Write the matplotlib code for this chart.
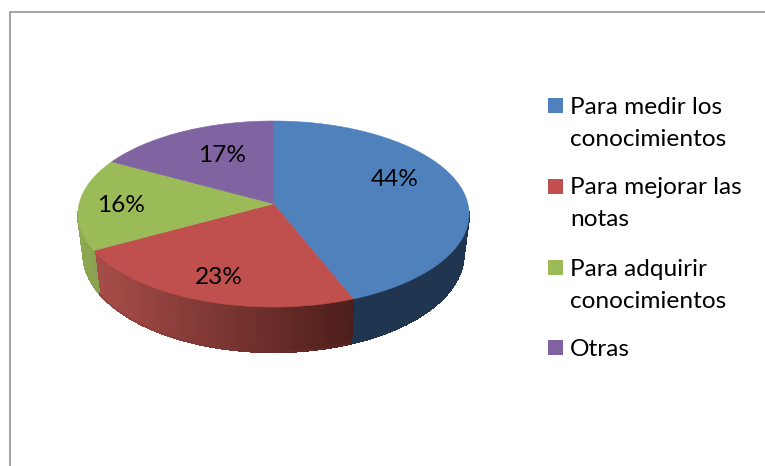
import numpy as np
import matplotlib
matplotlib.use("Agg")
import matplotlib.pyplot as plt
from matplotlib.patches import Rectangle
from matplotlib.colors import to_rgb

categories = ["Para medir los\nconocimientos", "Para mejorar las\nnotas", "Para adquirir\nconocimientos", "Otras"]
values = [44, 23, 16, 17]
labels = ["44%", "23%", "16%", "17%"]
top_colors = ["#4f81bd", "#bf504d", "#9bbb59", "#8064a2"]
wall_left = ["#1f3550", "#a84d49", "#8fa852", "#6a5388"]
wall_right = ["#1f3550", "#4c1e1a", "#7f9a4c", "#6a5388"]

CX, CY, RX, RY = 273.5, 214.0, 195.5, 93.0
K = 0.11
SHRINK = 0.972
FONT = "Lato"
FS = 17.6
label_xy = [(395, 179), (219, 278), (121, 205), (222, 155)]
legend_y = [(107, 139), (188, 220), (269, 301), (349,)]
legend_box_y = [105.5, 186.5, 267, 347.5]

fig = plt.figure(figsize=(7.65, 4.66), dpi=100)
ax = fig.add_axes([0, 0, 1, 1])
ax.set_xlim(0, 765)
ax.set_ylim(466, 0)
ax.axis("off")


def project(theta):
    """Unit-circle angle -> perspective-tilted pie rim."""
    c, s = np.cos(theta), np.sin(theta)
    d = 1 + K * s
    return c * np.sqrt(1 - K ** 2) / d, (s + K) / d


def px(x, y):
    return CX + RX * np.asarray(x), CY - RY * np.asarray(y)


def depth(y):
    return 40.0 + 5.0 * np.clip(-np.asarray(y), 0, 1)


fracs = np.cumsum([0] + values) / float(sum(values))
angles = np.pi / 2 - 2 * np.pi * fracs

# side walls, painted as thin strips so the shading can vary
for i in range(len(values)):
    th = np.linspace(angles[i], angles[i + 1], 140)
    ux, uy = project(th)
    x, y = px(ux, uy)
    xb = CX + (x - CX) * SHRINK
    yb = y + depth(uy)
    x0, x1 = x.min(), x.max()
    cl, cr = np.array(to_rgb(wall_left[i])), np.array(to_rgb(wall_right[i]))
    for j in range(len(th) - 1):
        if uy[j] > 0.02 and uy[j + 1] > 0.02:
            continue
        t = (0.5 * (x[j] + x[j + 1]) - x0) / max(x1 - x0, 1)
        col = cl + (cr - cl) * t
        ax.fill([x[j], x[j + 1], xb[j + 1], xb[j]],
                [y[j], y[j + 1], yb[j + 1], yb[j]],
                facecolor=col, edgecolor=col, lw=1.0, antialiased=False, zorder=2)
    # smooth outline over the stepped strip edges
    vis = uy <= 0.02
    ax.plot(xb[vis], yb[vis], color=tuple((cl + cr) / 2), lw=0.7, alpha=0.5, zorder=2)

# top face
hub_x, hub_y = px(0.0, K)
for i in range(len(values)):
    th = np.linspace(angles[i], angles[i + 1], 200)
    x, y = px(*project(th))
    ax.fill(np.r_[hub_x, x], np.r_[hub_y, y], color=top_colors[i], lw=0.4, zorder=3)

for (lx, ly), t in zip(label_xy, labels):
    ax.text(lx, ly, t, ha="center", va="center", fontsize=FS, family=FONT, color="#000000", zorder=4)

# legend
for cat, col, ys, by in zip(categories, top_colors, legend_y, legend_box_y):
    ax.add_patch(Rectangle((548, by - 7.5), 15, 15, facecolor=col, edgecolor="none", zorder=4))
    for line, yy in zip(cat.split("\n"), ys):
        ax.text(570, yy, line, ha="left", va="center", fontsize=FS, family=FONT, color="#000000", zorder=4)

# chart frame
ax.plot([10, 10, 765], [466, 11.5, 11.5], color="#8a8a8a", lw=1.1, solid_joinstyle="miter", zorder=1)

fig.savefig("out.png", dpi=100)
